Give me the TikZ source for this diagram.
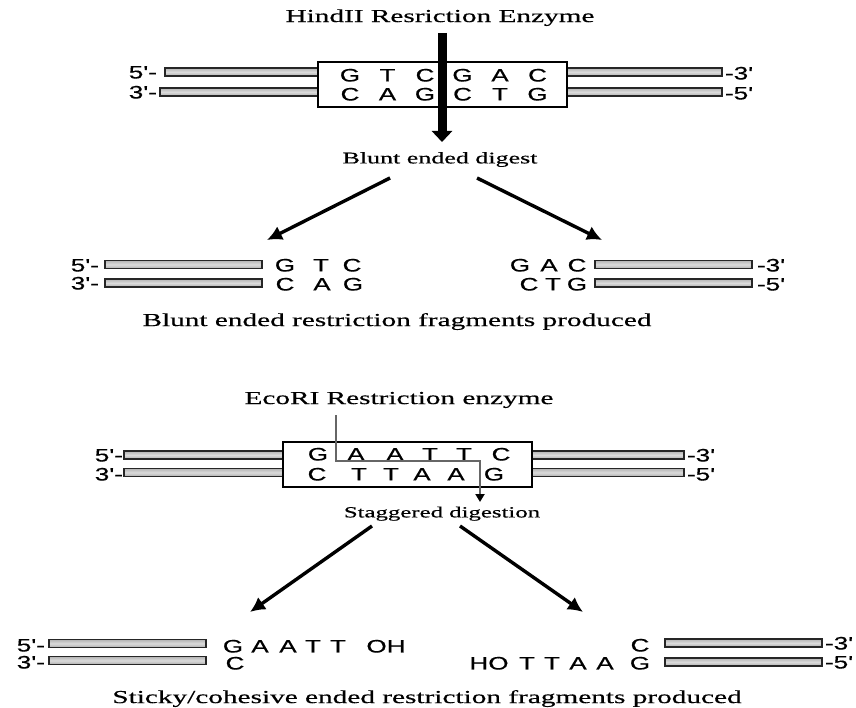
\documentclass[tikz,border=0pt]{standalone}
\usepackage{fontspec}
\setmainfont{Liberation Serif}
\newfontfamily\serifwide[FakeStretch=1.6,FakeBold=0.5]{Liberation Serif}
\newfontfamily\sanswide[FakeStretch=1.45,FakeBold=0.5]{Liberation Sans}
\usetikzlibrary{arrows.meta}
\tikzset{
  every node/.style={inner sep=0pt, outer sep=0pt},
  biglab/.style={font=\serifwide\fontsize{18.3}{20}\selectfont, text height=12.1pt, text depth=0pt},
  diglab/.style={font=\serifwide\fontsize{16.25}{18}\selectfont, text height=10.8pt, text depth=0pt},
  baselab/.style={font=\sanswide\fontsize{18}{20}\selectfont, text height=12.9pt, text depth=0pt},
  strand/.style={draw=black!85, line width=1.6pt, top color=gray!60, bottom color=gray!65, middle color=gray!28},
  sitebox/.style={draw=black, line width=2.5pt, fill=white, minimum width=249pt, minimum height=45pt},
  bigarrow/.style={line width=3.4pt, -{Latex[length=15pt,width=15pt]}},
  cutline/.style={line width=9pt, -{Triangle[length=11pt,width=20pt]}},
  stagline/.style={line width=2.6pt, draw=black!60, -{Triangle[length=8pt,width=9pt,color=black]}}
}
\newcommand\dnastrand[3]{\draw[strand] (#1,#3-4) rectangle (#2,#3+4);}
\begin{document}
\begin{tikzpicture}[x=1pt,y=-1pt]
\useasboundingbox (0,0) rectangle (856,708);

% ---------------- HindII ----------------
\node[biglab] (htitle) at (440,16) {HindII Resriction Enzyme};
\dnastrand{165}{318}{72}
\dnastrand{160}{318}{92}
\dnastrand{567}{722}{72}
\dnastrand{567}{722}{92}
\node[sitebox] (hbox) at (442.5,84.5) {};
\foreach \x/\l [count=\i] in {350/G,387.5/T,425/C,462.5/G,500/A,537.5/C}
  \node[baselab] (ht\i) at (\x,75) {\l};
\foreach \x/\l [count=\i] in {350/C,387.5/A,425/G,462.5/C,500/T,537.5/G}
  \node[baselab] (hb\i) at (\x,94) {\l};
\node[baselab, anchor=east] (hl5) at (157,72) {5'-};
\node[baselab, anchor=east] (hl3) at (157,92) {3'-};
\node[baselab, anchor=west] (hr3) at (725,73) {-3'};
\node[baselab, anchor=west] (hr5) at (725,93) {-5'};
\coordinate (hcutA) at (442,33);
\coordinate (hcutB) at (442,142);
\draw[cutline] (hcutA) -- (hcutB);
\node[diglab] (hdig) at (440,158) {Blunt ended digest};
\coordinate (hal) at (390,178);
\coordinate (hbl) at (267,240);
\coordinate (har) at (477,178);
\coordinate (hbr) at (602,240);
\draw[bigarrow] (hal) -- (hbl);
\draw[bigarrow] (har) -- (hbr);

% blunt fragments
\dnastrand{105}{262}{264.5}
\dnastrand{105}{262}{283}
\dnastrand{595}{752}{264.5}
\dnastrand{595}{752}{283}
\node[baselab, anchor=east] (bl5) at (99,265) {5'-};
\node[baselab, anchor=east] (bl3) at (99,283) {3'-};
\node[baselab, anchor=west] (br3) at (757,265) {-3'};
\node[baselab, anchor=west] (br5) at (757,284) {-5'};
\foreach \x/\l [count=\i] in {285/G,321/T,352/C}
  \node[baselab] (blt\i) at (\x,265) {\l};
\foreach \x/\l [count=\i] in {285/C,322/A,353/G}
  \node[baselab] (blb\i) at (\x,284) {\l};
\foreach \x/\l [count=\i] in {520/G,549/A,577/C}
  \node[baselab] (brt\i) at (\x,265) {\l};
\foreach \x/\l [count=\i] in {529/C,553/T,577/G}
  \node[baselab] (brb\i) at (\x,284) {\l};
\node[biglab] (bprod) at (397,320) {Blunt ended restriction fragments produced};

% ---------------- EcoRI ----------------
\node[biglab] (etitle) at (399,398) {EcoRI Restriction enzyme};
\dnastrand{124}{283}{455}
\dnastrand{124}{283}{472.5}
\dnastrand{532}{684}{455}
\dnastrand{532}{684}{472.5}
\node[sitebox] (ebox) at (407.5,464.5) {};
\foreach \x/\l [count=\i] in {318/G,356/A,395/A,430/T,464/T,501/C}
  \node[baselab] (et\i) at (\x,454) {\l};
\foreach \x/\l [count=\i] in {317/C,359/T,391/T,422/A,456/A,494/G}
  \node[baselab] (eb\i) at (\x,474) {\l};
\node[baselab, anchor=east] (el5) at (123,455) {5'-};
\node[baselab, anchor=east] (el3) at (123,474) {3'-};
\node[baselab, anchor=west] (er3) at (687,455) {-3'};
\node[baselab, anchor=west] (er5) at (687,474) {-5'};
\coordinate (es1) at (336,415);
\coordinate (es2) at (336,461);
\coordinate (es3) at (480,461);
\coordinate (es4) at (480,502);
\draw[stagline] (es1) -- (es2) -- (es3) -- (es4);
\node[diglab, font=\serifwide\fontsize{15.5}{17}\selectfont] (edig) at (442,512) {Staggered digestion};
\coordinate (eal) at (372,526);
\coordinate (ebl) at (250,612);
\coordinate (ear) at (460,526);
\coordinate (ebr) at (583,612);
\draw[bigarrow] (eal) -- (ebl);
\draw[bigarrow] (ear) -- (ebr);

% sticky fragments
\dnastrand{49}{206}{643.5}
\dnastrand{49}{206}{660.5}
\dnastrand{665}{822}{643}
\dnastrand{665}{822}{662}
\node[baselab, anchor=east] (sl5) at (45,645) {5'-};
\node[baselab, anchor=east] (sl3) at (45,662) {3'-};
\node[baselab, anchor=west] (sr3) at (825,643) {-3'};
\node[baselab, anchor=west] (sr5) at (825,662) {-5'};
\foreach \x/\l [count=\i] in {233/G,260/A,288/A,313/T,338/T,386/OH}
  \node[baselab] (slt\i) at (\x,646) {\l};
\node[baselab] (slb1) at (235,663) {C};
\node[baselab] (srt1) at (640,645) {C};
\foreach \x/\l [count=\i] in {489/HO,527/T,552/T,578/A,605/A,640/G}
  \node[baselab] (srb\i) at (\x,663) {\l};
\node[biglab] (sprod) at (427,697) {Sticky/cohesive ended restriction fragments produced};
\end{tikzpicture}
\end{document}
